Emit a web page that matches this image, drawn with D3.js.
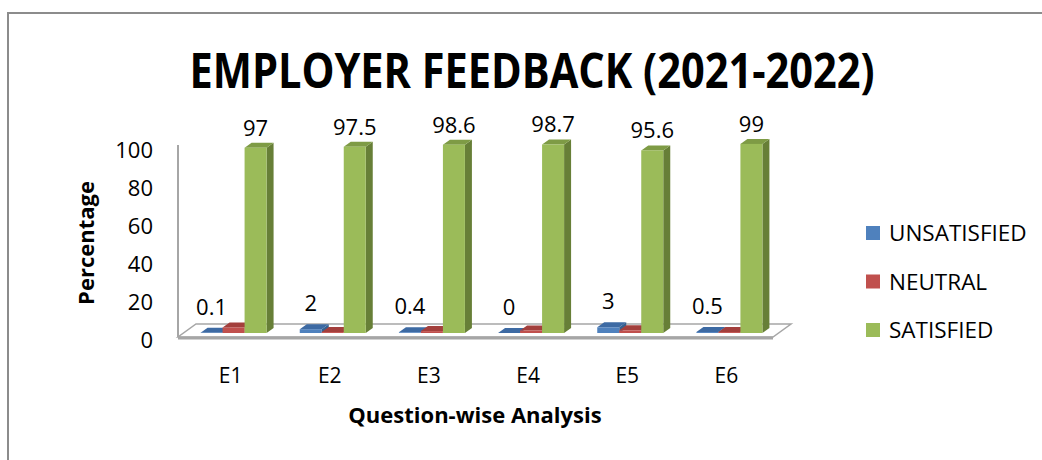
<!DOCTYPE html>
<html>
<head>
<meta charset="utf-8">
<script src="https://cdn.jsdelivr.net/npm/d3@7"></script>
<style>
  body { margin: 0; background: #fff; }
  text { font-family: "Open Sans", "Liberation Sans", sans-serif; fill: #000; }
</style>
</head>
<body>
<div id="chart"></div>
<script>
// data
const categories = ["E1", "E2", "E3", "E4", "E5", "E6"];
const seriesNames = ["UNSATISFIED", "NEUTRAL", "SATISFIED"];
const unsatisfied = [0.1, 2, 0.4, 0, 3, 0.5];
const neutral = [2.9, 0.5, 1, 1.3, 1.4, 0.5];
const satisfied = [97, 97.5, 98.6, 98.7, 95.6, 99];
const yTicks = [0, 20, 40, 60, 80, 100];

const values = [unsatisfied, neutral, satisfied];
const labelled = [true, false, true];

const W = 1042, H = 460;
const svg = d3.select("#chart").append("svg")
  .attr("width", W)
  .attr("height", H);

// outer frame
svg.append("path")
  .attr("d", `M${W + 5},13 H8 V${H + 5}`)
  .attr("fill", "none")
  .attr("stroke", "#8c8c8c")
  .attr("stroke-width", 2);

// colours: front, top, side
const colors = [
  { front: "#4f81bd", top: "#3d6aa3", side: "#35608f" },
  { front: "#c0504d", top: "#a33f3c", side: "#8f3734" },
  { front: "#9bbb59", top: "#7e9b45", side: "#677f37" }
];

// plot geometry
const floorLeft = 178, floorRight = 773, floorFront = 337;
const floorDx = 18, floorDy = -13;
const barDx = 7, barDy = -5;   // depth of a bar
const shiftX = 6, shiftY = -4; // bars sit a bit behind the front edge

const x = d3.scaleBand()
  .domain(categories)
  .range([floorLeft, floorRight]);

const groupW = 66;
const xSub = d3.scaleBand()
  .domain(seriesNames)
  .range([0, groupW]);

const y = d3.scaleLinear()
  .domain([0, 100])
  .range([floorFront + shiftY, floorFront + shiftY - 191]);

// floor
const floor = svg.append("g");
floor.append("path")
  .attr("d", `M${floorLeft},${floorFront} L${floorRight},${floorFront} L${floorRight + floorDx},${floorFront + floorDy} L${floorLeft + floorDx},${floorFront + floorDy} Z`)
  .attr("fill", "#fff")
  .attr("stroke", "#a6a6a6")
  .attr("stroke-width", 1.5);
floor.append("line")
  .attr("x1", floorLeft).attr("x2", floorRight)
  .attr("y1", floorFront + 1).attr("y2", floorFront + 1)
  .attr("stroke", "#a6a6a6")
  .attr("stroke-width", 3);

// wall edge
svg.append("line")
  .attr("x1", floorLeft).attr("x2", floorLeft)
  .attr("y1", 145).attr("y2", floorFront)
  .attr("stroke", "#a6a6a6")
  .attr("stroke-width", 2);

// Y axis labels
const yAxisScale = d3.scaleLinear().domain([0, 100]).range([340, 150]);
const yAxis = svg.append("g")
  .attr("transform", "translate(153,0)")
  .call(d3.axisLeft(yAxisScale).tickValues(yTicks).tickSize(0).tickPadding(0));
yAxis.select(".domain").remove();
yAxis.selectAll("text")
  .attr("dy", "0.36em")
  .style("font-size", "22px")
  .style("font-family", "'Open Sans', sans-serif");

// X axis labels
const xAxis = svg.append("g")
  .attr("transform", `translate(3,${floorFront + 31})`)
  .call(d3.axisBottom(x).tickSize(0).tickPadding(0));
xAxis.select(".domain").remove();
xAxis.selectAll("text")
  .attr("dy", "0.71em")
  .style("font-size", "21px")
  .style("font-family", "'Open Sans', sans-serif");

// bars
const bars = svg.append("g");
categories.forEach((cat, i) => {
  seriesNames.forEach((s, k) => {
    const v = values[k][i];
    const x0 = x(cat) + (x.step() - groupW) / 2 + xSub(s) + shiftX;
    const w = xSub.bandwidth();
    const yTop = y(v), yBase = y(0);
    const c = colors[k];
    // side face
    bars.append("path")
      .attr("d", `M${x0 + w},${yBase} L${x0 + w + barDx},${yBase + barDy} L${x0 + w + barDx},${yTop + barDy} L${x0 + w},${yTop} Z`)
      .attr("fill", c.side);
    // top face
    bars.append("path")
      .attr("d", `M${x0},${yTop} L${x0 + barDx},${yTop + barDy} L${x0 + w + barDx},${yTop + barDy} L${x0 + w},${yTop} Z`)
      .attr("fill", c.top);
    // front face
    bars.append("rect")
      .attr("x", x0)
      .attr("y", yTop)
      .attr("width", w)
      .attr("height", Math.max(0, yBase - yTop))
      .attr("fill", c.front);
  });
});

// data labels
const labelOffset = [18, 0, 12];
seriesNames.forEach((s, k) => {
  if (!labelled[k]) return;
  svg.append("g").selectAll("text")
    .data(values[k])
    .join("text")
    .attr("x", (d, i) => x(categories[i]) + (x.step() - groupW) / 2 + xSub(s) + shiftX + xSub.bandwidth() / 2)
    .attr("y", d => y(d) - labelOffset[k])
    .attr("text-anchor", "middle")
    .style("font-size", "22px")
    .text(d => d);
});

// title
svg.append("text")
  .attr("x", 532)
  .attr("y", 88)
  .attr("text-anchor", "middle")
  .attr("textLength", 685)
  .attr("lengthAdjust", "spacingAndGlyphs")
  .style("font-size", "48px")
  .style("font-weight", "bold")
  .text("EMPLOYER FEEDBACK (2021-2022)");

// axis titles
svg.append("text")
  .attr("transform", "translate(94,243) rotate(-90)")
  .attr("text-anchor", "middle")
  .style("font-size", "22px")
  .style("font-weight", "bold")
  .text("Percentage");

svg.append("text")
  .attr("x", 475)
  .attr("y", 423)
  .attr("text-anchor", "middle")
  .style("font-size", "22px")
  .style("font-weight", "bold")
  .text("Question-wise Analysis");

// legend
const legend = svg.append("g")
  .attr("transform", "translate(866,233)");
const legendItem = legend.selectAll("g")
  .data(seriesNames)
  .join("g")
  .attr("transform", (d, i) => `translate(0,${i * 48.5})`);
legendItem.append("rect")
  .attr("y", -7)
  .attr("width", 14)
  .attr("height", 14)
  .attr("fill", (d, i) => colors[i].front);
legendItem.append("text")
  .attr("x", 23)
  .attr("dy", "0.36em")
  .style("font-size", "22.5px")
  .text(d => d);
</script>
</body>
</html>
